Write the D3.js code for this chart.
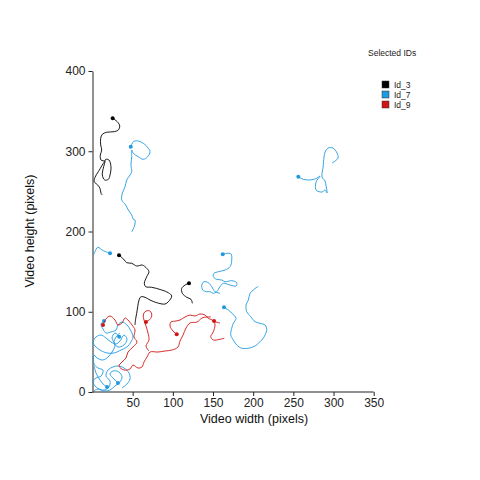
<!DOCTYPE html>
<html><head><meta charset="utf-8">
<script src="https://cdn.jsdelivr.net/npm/d3@7"></script>
<style>body{margin:0;background:#fff}svg{font-family:"Liberation Sans",Arial,sans-serif}</style>
</head><body>
<svg id="c" width="480" height="480"></svg>
<script>
// ---- data (video pixel coordinates) ----
const ids = ["Id_3", "Id_7", "Id_9"];
const colors = ["#000000", "#1f9ae0", "#d01515"];
const xTicks = [50, 100, 150, 200, 250, 300, 350];
const yTicks = [0, 100, 200, 300, 400];

// Id_3 segments (first point = marked start)
const id3_a = [[25.1,341.0],[30.9,336.8],[33.9,331.4],[32.1,326.5],[27.1,324.4],[17.7,323.7],[12.2,321.1],[10.2,316.2],[10.2,307.8],[11.5,301.5],[9.7,295.3],[10.6,289.1],[15.6,288.2],[16.4,289.9],[20.5,289.1],[23.0,280.7],[21.8,270.4],[19.7,265.0],[15.2,264.2],[12.2,270.4],[13.9,280.7],[15.6,287.6],[7.2,274.5],[3.1,267.5],[2.2,262.0],[6.5,257.9],[9.3,253.8],[10.6,247.6],[12.2,245.5]];
const id3_b = [[33.0,170.3],[36.4,167.8],[39.6,164.5],[42.6,161.1],[48.8,160.4],[55.0,157.0],[62.0,158.2],[67.5,154.1],[70.3,149.9],[67.5,143.7],[64.5,135.4],[66.2,131.2],[73.7,130.5],[86.2,127.1],[94.4,123.7],[98.6,119.6],[94.4,112.5],[90.3,109.6],[79.9,111.3],[71.6,114.6],[65.4,118.0],[60.4,118.7],[57.9,114.6],[56.3,106.3],[55.0,98.1],[53.8,91.8],[52.9,83.5]];
const id3_c = [[120.1,135.4],[115.2,133.3],[111.1,129.2],[111.8,123.0],[117.3,118.0],[122.6,115.5],[124.3,110.5]];

// Id_7 segments
const id7_a = [[47.6,305.6],[50.8,311.9],[55.0,313.1],[63.2,309.9],[69.5,303.7],[71.6,299.4],[68.7,293.2],[63.2,289.9],[57.0,293.2],[50.8,297.4],[48.8,301.5],[48.8,293.2],[47.9,282.8],[48.8,274.5],[46.7,270.4],[42.6,264.2],[40.5,255.8],[37.1,247.6],[36.4,239.2],[41.3,233.0],[44.6,226.8],[48.8,220.5],[50.8,215.2],[52.9,214.3],[52.0,206.0],[48.8,199.7]];
const id7_b = [[21.8,172.8],[13.4,176.1],[6.5,180.3],[3.1,174.8],[1.0,170.7]];
const id7_c = [[162.1,171.6],[167.1,172.8],[172.4,172.0],[173.3,164.5],[171.2,156.1],[165.0,152.0],[156.6,149.9],[151.3,147.9],[150.4,143.7],[154.6,140.4],[160.9,139.6],[165.0,137.4],[173.3,138.7],[179.5,136.2],[178.7,132.1],[171.2,133.3],[162.8,135.4],[158.7,131.2],[154.6,125.0],[150.4,123.0],[146.3,125.0],[142.2,125.0],[137.2,127.1],[136.0,133.3],[138.8,137.4],[144.2,136.2],[148.4,131.2],[152.5,125.0],[158.7,123.0]];
const id7_d = [[163.7,105.5],[169.1,102.2],[174.5,97.2],[178.7,91.8],[175.3,85.6],[173.3,79.4],[172.1,71.0],[175.3,64.8],[179.5,58.6],[185.8,54.5],[194.0,54.5],[202.3,57.3],[206.4,60.7],[210.7,64.8],[214.8,71.0],[216.9,78.1],[214.8,83.5],[208.5,85.6],[202.3,87.6],[197.0,93.8],[192.0,100.1],[191.1,108.4],[194.0,114.6],[196.1,123.0],[200.2,127.1],[204.4,130.5],[206.4,131.2]];
const id7_e = [[256.2,268.3],[262.5,265.0],[270.8,264.2],[279.1,266.3],[283.2,269.1],[278.3,261.7],[278.3,251.7],[285.7,249.2],[289.5,251.7],[292.0,248.0],[290.7,256.7],[289.5,262.9],[285.7,267.9],[287.0,280.4],[288.2,292.8],[289.5,299.0],[293.2,304.0],[299.4,304.0],[304.4,297.8],[305.6,291.6],[301.9,287.8],[298.2,285.3]];
const id7_f = [[14.3,88.5],[10.6,84.7],[13.1,78.5],[16.8,73.5],[23.0,74.8],[29.3,77.3],[31.7,83.5],[36.7,87.2],[42.9,83.5],[47.9,76.0],[50.4,68.5],[47.9,62.3],[42.9,56.1],[35.5,52.3],[26.8,48.6],[18.1,48.6],[9.3,52.3],[3.1,57.3],[0.6,62.3],[4.4,68.5],[10.6,71.0],[16.8,67.3],[23.0,62.3],[29.3,59.8],[34.2,63.5],[39.2,71.0],[42.9,66.0],[39.2,58.6],[31.7,56.1],[26.8,61.1],[29.3,68.5],[34.2,73.5]];
const id7_g = [[33.2,68.9],[28.0,73.5],[24.3,67.3],[28.0,58.6],[24.3,49.8],[19.3,43.6],[13.1,39.9],[5.6,42.4],[1.9,46.1],[1.9,34.9],[6.8,29.9],[13.1,27.4],[10.6,19.9],[4.4,17.4],[0.6,13.7],[3.1,7.5],[8.1,3.7],[14.3,2.5],[20.5,6.2],[21.8,13.7],[16.8,19.9],[19.3,27.4],[25.5,31.2],[31.7,32.4],[39.2,29.9],[45.4,23.7],[46.7,16.2],[42.9,10.0],[36.7,5.0]];
const id7_h = [[31.7,11.2],[26.8,16.2],[21.8,22.4],[25.5,26.2],[32.9,24.9],[36.7,18.7],[34.2,12.5],[28.0,7.5],[21.8,2.5],[14.3,1.2],[6.8,3.7],[1.9,1.2]];
const id7_i = [[18.1,6.2],[13.1,10.0],[9.3,15.0],[4.4,23.7],[1.9,32.4]];

// Id_9 segments
const id9_a = [[13.1,83.5],[16.8,91.0],[21.8,94.7],[28.0,89.7],[31.7,83.5],[36.7,86.0],[40.5,92.2],[44.2,89.7],[49.2,83.5],[52.9,77.3],[51.7,68.5],[55.4,62.3],[50.4,56.1],[44.2,49.8],[41.7,42.4],[36.7,37.4],[33.0,32.4],[39.2,27.4],[46.7,28.7],[50.4,33.6],[56.6,29.9],[61.6,31.2],[64.1,37.4],[67.9,43.6],[71.6,49.8],[81.5,49.8],[90.3,51.1],[99.0,52.3],[106.4,56.1],[108.9,63.5],[112.7,71.0],[116.4,79.7],[121.4,86.0],[130.1,87.2],[136.3,92.2],[142.6,93.5],[147.5,93.5]];
const id9_b = [[66.6,87.2],[72.5,91.8],[73.7,97.2],[70.7,101.3],[65.4,100.1],[63.2,95.9],[64.1,89.7],[66.6,82.2],[69.1,73.5],[70.3,64.8],[66.6,57.3],[70.3,51.1]];
const id9_c = [[104.8,71.9],[100.2,76.0],[96.5,82.2],[97.7,87.2],[104.0,88.5],[108.9,89.7],[115.2,93.5],[121.4,95.9],[127.6,94.7],[133.8,97.2],[140.1,95.9],[143.8,92.2],[148.8,89.7],[153.8,87.2],[158.7,86.0]];
const id9_d = [[151.3,88.5],[152.5,83.5],[150.4,75.1],[147.2,68.9],[150.4,64.8],[158.7,65.7],[164.1,66.9]];

const tracks = [
  {id: "Id_7", segs: [id7_a, id7_b, id7_c, id7_d, id7_e, id7_f, id7_g, id7_h, id7_i]},
  {id: "Id_3", segs: [id3_a, id3_b, id3_c]},
  {id: "Id_9", segs: [id9_a, id9_b, id9_c, id9_d]}
];

// ---- drawing ----
const svg = d3.select("#c");
const x = d3.scaleLinear().domain([0, 350]).range([92.5, 373.7]);
const y = d3.scaleLinear().domain([0, 400]).range([392, 71]);
const color = d3.scaleOrdinal().domain(ids).range(colors);

const gx = svg.append("g").attr("transform", "translate(0,392)")
  .call(d3.axisBottom(x).tickValues(xTicks).tickSize(4).tickPadding(2).tickSizeOuter(0));
const gy = svg.append("g").attr("transform", "translate(92.5,0)")
  .call(d3.axisLeft(y).tickValues(yTicks).tickSize(4).tickPadding(3).tickSizeOuter(0));
[gx, gy].forEach(g => {
  g.select(".domain").attr("stroke", "#222").attr("stroke-width", 1);
  g.selectAll(".tick line").attr("stroke", "#222");
  g.selectAll(".tick text").attr("fill", "#222").attr("font-size", 12)
    .attr("font-family", "Liberation Sans, Arial, sans-serif");
});
gx.select(".domain").attr("d", `M${x(0)},0H${x(350)}`);

svg.append("text").attr("x", 254).attr("y", 423).attr("text-anchor", "middle")
  .attr("font-size", 12.5).attr("fill", "#111").text("Video width (pixels)");
svg.append("text").attr("transform", "translate(34,231) rotate(-90)").attr("text-anchor", "middle")
  .attr("font-size", 12.5).attr("fill", "#111").text("Video height (pixels)");

const line = d3.line().x(d => x(d[0])).y(d => y(d[1])).curve(d3.curveCatmullRom.alpha(0.5));
const plot = svg.append("g");
tracks.forEach(t => {
  t.segs.forEach(s => {
    plot.append("path").attr("d", line(s)).attr("fill", "none")
      .attr("stroke", color(t.id)).attr("stroke-width", 0.9);
    plot.append("circle").attr("cx", x(s[0][0])).attr("cy", y(s[0][1])).attr("r", 2)
      .attr("fill", color(t.id));
  });
});

// legend
svg.append("text").attr("x", 368).attr("y", 56).attr("font-size", 8.5).attr("fill", "#222").text("Selected IDs");
const lg = svg.append("g");
ids.forEach((id, i) => {
  lg.append("rect").attr("x", 382).attr("y", 81 + i * 10).attr("width", 7).attr("height", 7)
    .attr("fill", color(id)).attr("stroke", "#333").attr("stroke-width", 0.5);
  lg.append("text").attr("x", 394).attr("y", 88 + i * 10).attr("font-size", 8.5).attr("fill", "#222").text(id);
});
</script>
</body></html>
